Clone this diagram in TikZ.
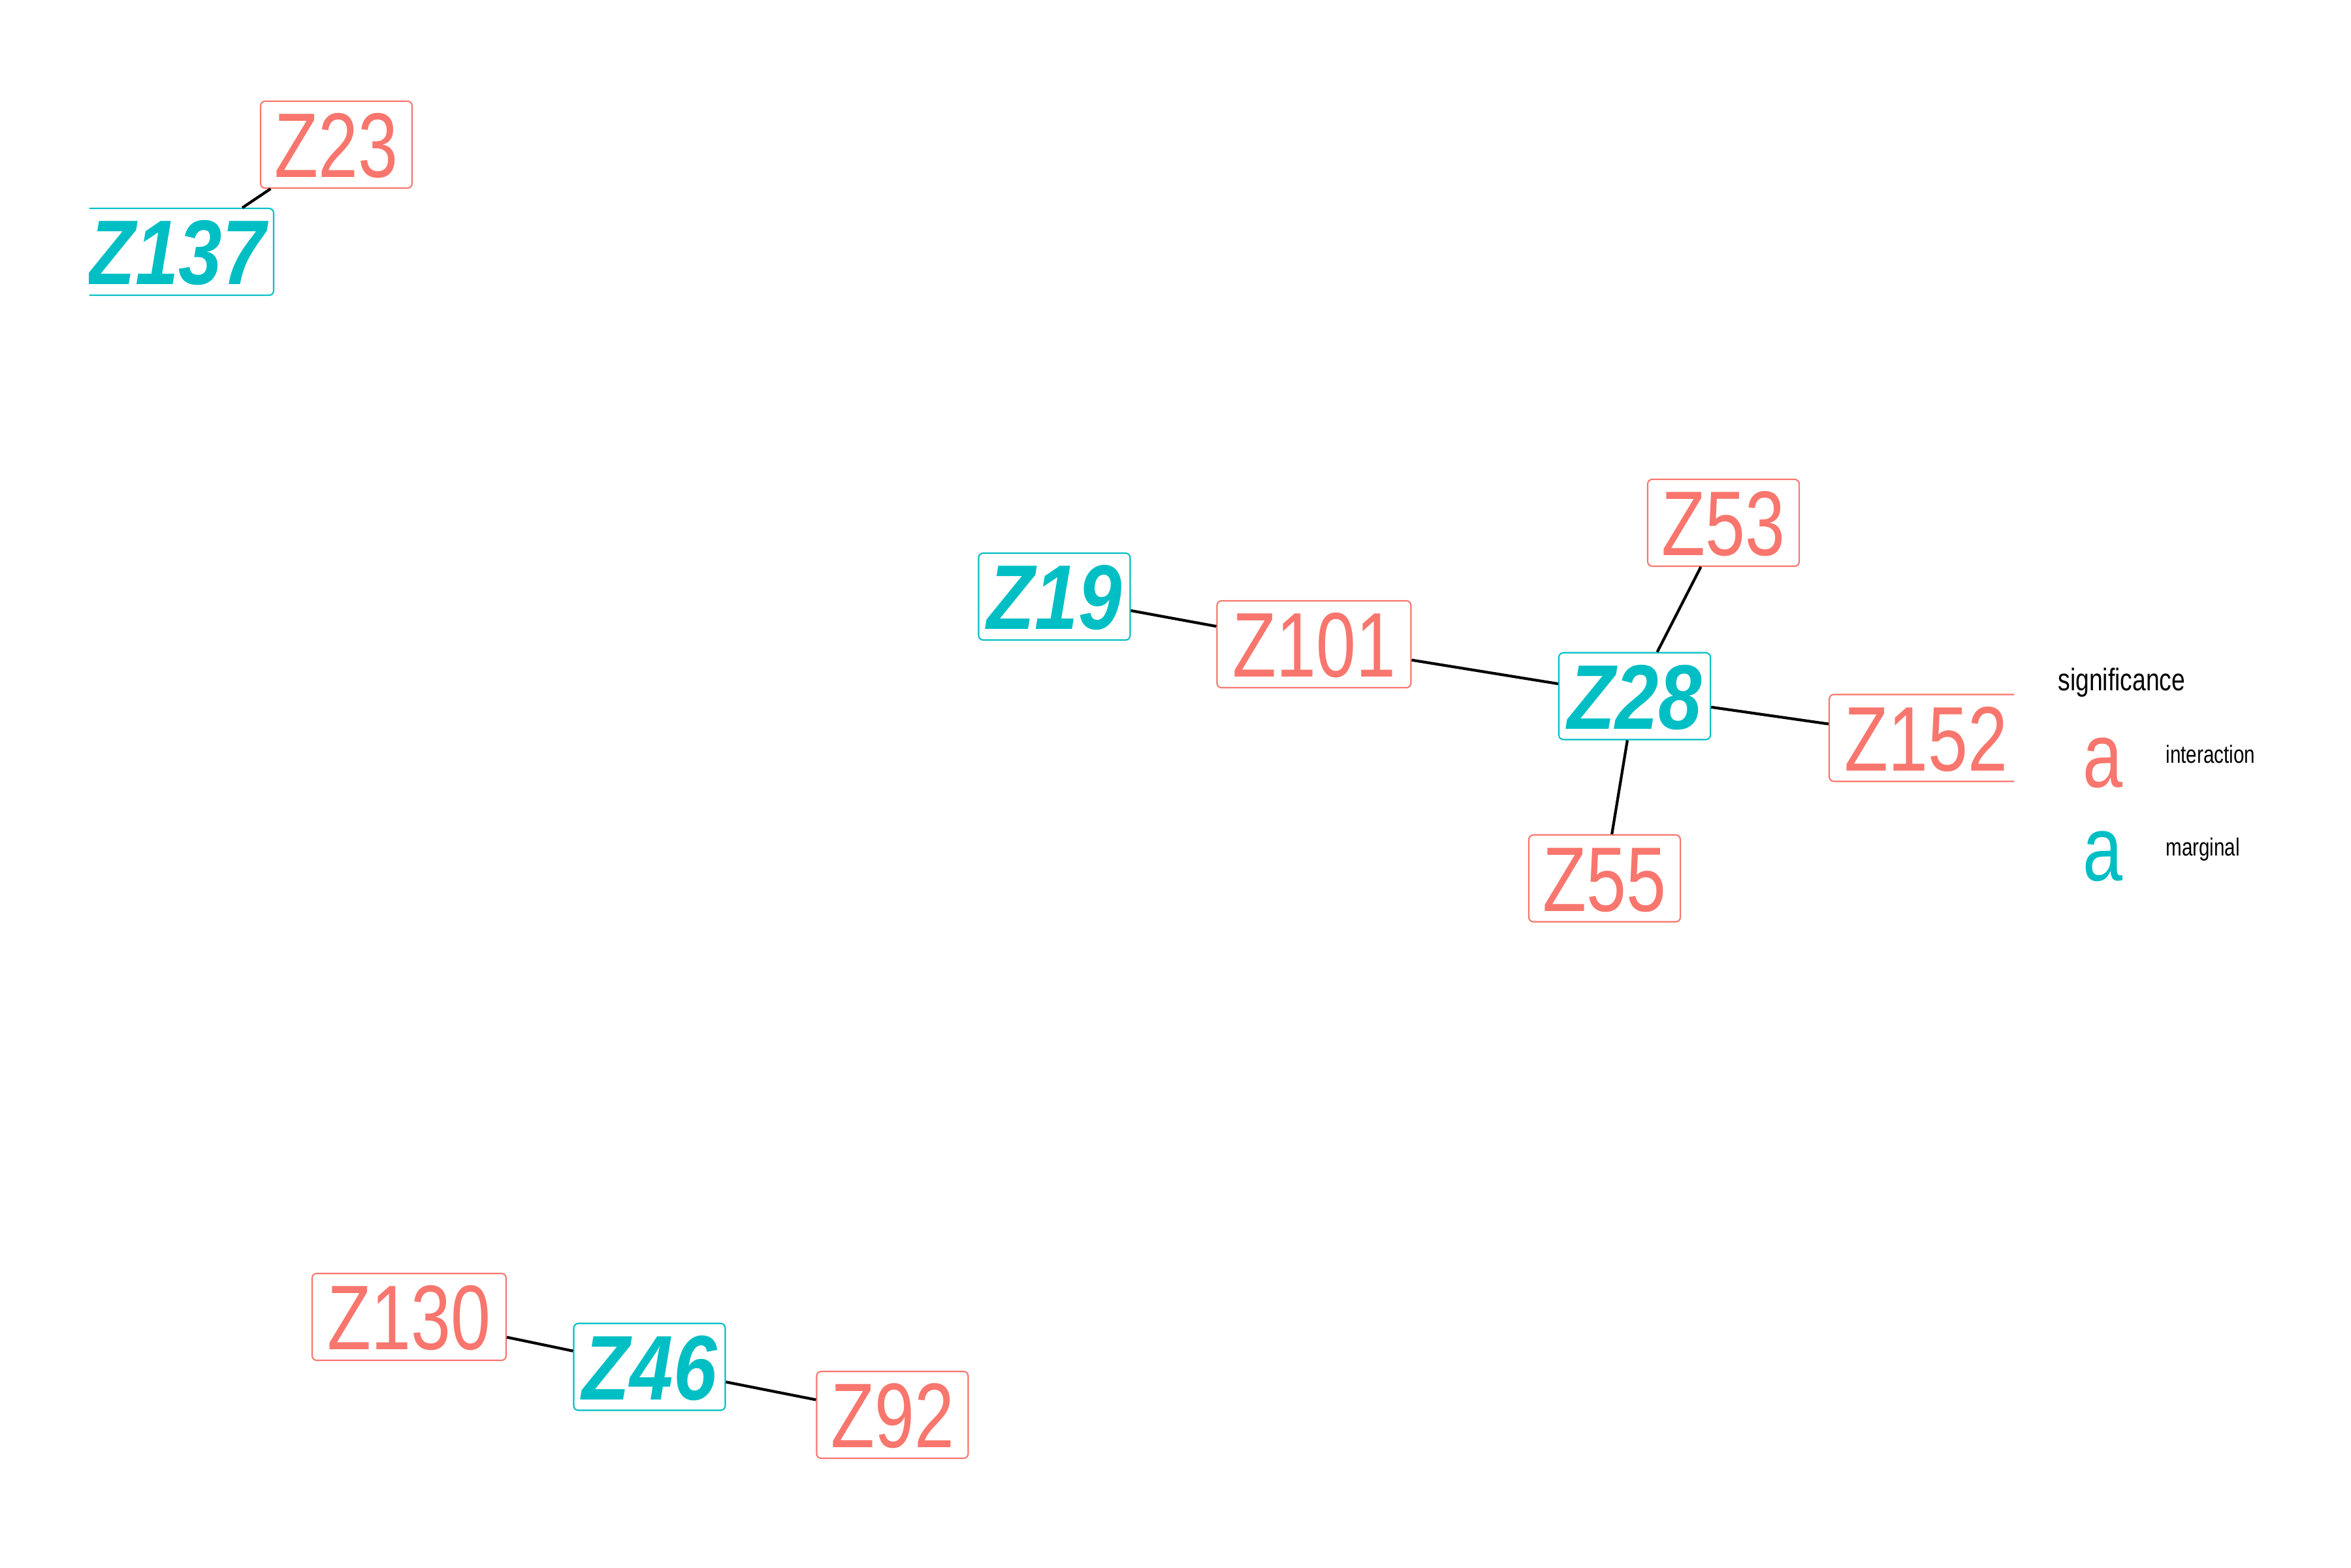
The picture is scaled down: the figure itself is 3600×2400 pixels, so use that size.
\documentclass[tikz,border=0pt]{standalone}
\usepackage{fontspec}
\setmainfont{Liberation Sans}
\newfontfamily\labfont{Liberation Sans}[FakeStretch=0.78]
\newfontfamily\margfont{Liberation Sans}[FakeStretch=0.85]
\definecolor{intcol}{HTML}{F8766D}
\definecolor{marcol}{HTML}{00BFC4}

\begin{document}
\begin{tikzpicture}[x=0.05mm, y=-0.05mm,
    lab/.style={draw=#1, text=#1, fill=white, rounded corners=0.35mm, line width=0.3pt,
      minimum width=11.6mm, minimum height=6.65mm, inner sep=0pt,
      text height=14.3pt, text depth=0pt},
    intlab/.style={lab=intcol, font=\labfont\fontsize{20}{20}\selectfont},
    marlab/.style={lab=marcol, font=\margfont\fontsize{20}{20}\selectfont\bfseries\itshape},
    wide/.style={minimum width=14.85mm},
    link/.style={black, line width=0.6pt},
    legtext/.style={font=\labfont\fontsize{5.4}{6}\selectfont, anchor=base west, inner sep=0pt},
    legkey/.style={font=\labfont\fontsize{20}{20}\selectfont, anchor=base, inner sep=0pt}]

        \useasboundingbox (0,0) rectangle (3600,2400);

        \begin{scope}
        \clip (136.5,0) rectangle (3084,2400);

        % upper left pair
        \node[intlab] (z23) at (515,221.5) {Z23};
        \node[marlab, wide] (z137) at (270.5,385.7) {Z137};

        % middle cluster
        \node[marlab] (z19) at (1614.5,913.5) {Z19};
        \node[intlab, wide] (z101) at (2012,986.5) {Z101};
        \node[intlab] (z53) at (2639,800.5) {Z53};
        \node[marlab] (z28) at (2503,1066) {Z28};
        \node[intlab, wide] (z152) at (2949.5,1130) {Z152};
        \node[intlab] (z55) at (2457,1345) {Z55};

        % lower left chain
        \node[intlab, wide] (z130) at (626.5,2016.5) {Z130};
        \node[marlab] (z46) at (994.5,2093) {Z46};
        \node[intlab] (z92) at (1366.5,2166.5) {Z92};

        \draw[link] (z23) -- (z137);
        \draw[link] (z19) -- (z101);
        \draw[link] (z101) -- (z28);
        \draw[link] (z28) -- (z53);
        \draw[link] (z28) -- (z152);
        \draw[link] (z28) -- (z55);
        \draw[link] (z130) -- (z46);
        \draw[link] (z46) -- (z92);
        \end{scope}

        % legend
        \node[legtext, font=\labfont\fontsize{6.8}{8}\selectfont] (legtitle) at (3150,1057) {significance};
        \node[legkey, text=intcol] (keyint) at (3220,1205) {a};
        \node[legtext] (txtint) at (3315,1168) {interaction};
        \node[legkey, text=marcol] (keymar) at (3220,1348) {a};
        \node[legtext] (txtmar) at (3315,1310) {marginal};

\end{tikzpicture}
\end{document}
